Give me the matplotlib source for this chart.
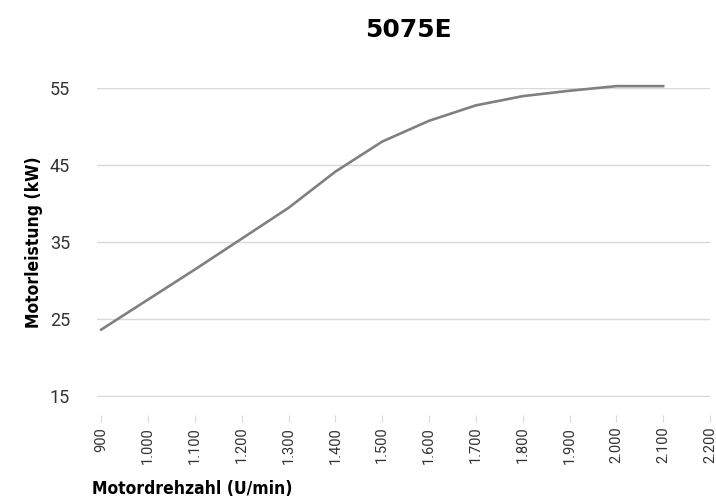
import matplotlib.pyplot as plt
import numpy as np

# engine speed (U/min) and engine power (kW)
drehzahl = [900, 1000, 1100, 1200, 1300, 1400, 1500, 1600, 1700, 1800, 1900, 2000, 2100]
leistung = [23.6, 27.5, 31.4, 35.4, 39.4, 44.1, 48.0, 50.7, 52.7, 53.9, 54.6, 55.2, 55.2]

x_ticks = list(range(900, 2201, 100))
x_labels = ["900", "1.000", "1.100", "1.200", "1.300", "1.400", "1.500", "1.600",
            "1.700", "1.800", "1.900", "2.000", "2.100", "2.200"]
y_ticks = [15, 25, 35, 45, 55]

fig = plt.figure(figsize=(7.16, 5.01), dpi=100)
ax = fig.add_axes([0.1355, 0.2076, 0.8561, 0.6174])

for s in ax.spines.values():
    s.set_visible(False)
ax.spines["bottom"].set_position(("outward", 13))

ax.plot(drehzahl, leistung, color="#808080", linewidth=1.9, clip_on=False, zorder=3)

ax.set_xlim(891, 2200)
ax.set_ylim(14.85, 55)
ax.set_yticks(y_ticks)
ax.set_xticks(x_ticks)
ax.set_xticklabels(x_labels, rotation=90, fontsize=10.5, family="Roboto",
                   fontweight="normal", color="#333333")
ax.set_yticklabels([str(v) for v in y_ticks], fontsize=13, family="Roboto",
                   fontweight="normal", color="#333333")

ax.grid(axis="y", color="#d9d9d9", linewidth=1)
ax.set_axisbelow(True)
ax.tick_params(axis="y", length=0, pad=19.5)
ax.tick_params(axis="x", length=5, width=0.8, color="#d9d9d9", pad=3.5)

ax.set_ylabel("Motorleistung (kW)", fontsize=12.5, fontweight="bold",
              family="DejaVu Sans", fontstretch="condensed", labelpad=5)
fig.text(92 / 716, 1 - 489 / 501, "Motordrehzahl (U/min)", fontsize=12.5, fontweight="bold",
         family="DejaVu Sans", fontstretch="condensed", ha="left", va="center")
fig.text(408 / 716, 1 - 30 / 501, "5075E", fontsize=18, fontweight="bold",
         ha="center", va="center")

fig.savefig("out.png", dpi=100)
